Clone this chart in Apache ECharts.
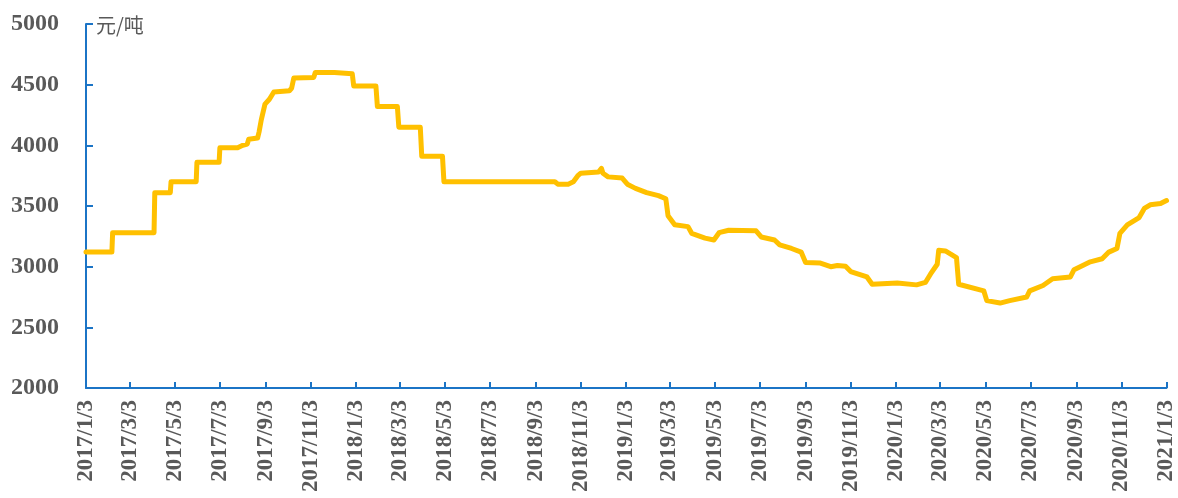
<!DOCTYPE html>
<html>
<head>
<meta charset="utf-8">
<script src="https://cdn.jsdelivr.net/npm/echarts@6/dist/echarts.min.js"></script>
<style>
html,body{margin:0;padding:0;background:#fff;}
#chart{width:1178px;height:498px;}
</style>
</head>
<body>
<div id="chart"></div>
<script>
// Axis range (daily categories between these dates)
const startDate = '2017/1/3';
const endDate = '2021/1/3';
const unitLabel = '元/吨';
const yTicks = [2000, 2500, 3000, 3500, 4000, 4500, 5000];

// Breakpoints of the price line
const pointDates = [
 '2017/1/3','2017/2/7','2017/2/8','2017/4/5','2017/4/6','2017/4/27','2017/4/28','2017/6/1','2017/6/2','2017/7/2',
 '2017/7/3','2017/7/27','2017/8/3','2017/8/9','2017/8/11','2017/8/23','2017/8/25','2017/8/28','2017/9/2','2017/9/8',
 '2017/9/14','2017/10/5','2017/10/8','2017/10/11','2017/11/7','2017/11/9','2017/12/5','2017/12/7','2017/12/29','2017/12/31',
 '2018/1/30','2018/2/1','2018/2/28','2018/3/2','2018/3/31','2018/4/2','2018/4/30','2018/5/2','2018/9/29','2018/10/3',
 '2018/10/17','2018/10/24','2018/10/30','2018/11/3','2018/11/27','2018/12/1','2018/12/3','2018/12/10','2018/12/29','2019/1/5',
 '2019/1/16','2019/1/31','2019/2/16','2019/2/26','2019/3/1','2019/3/10','2019/3/28','2019/4/2','2019/4/20','2019/5/2',
 '2019/5/9','2019/5/22','2019/6/28','2019/7/5','2019/7/23','2019/7/30','2019/8/15','2019/8/28','2019/9/3','2019/9/23',
 '2019/10/7','2019/10/16','2019/10/27','2019/11/3','2019/11/25','2019/12/2','2020/1/5','2020/1/31','2020/2/12','2020/2/19',
 '2020/2/28','2020/3/1','2020/3/10','2020/3/25','2020/3/28','2020/5/1','2020/5/5','2020/5/23','2020/6/5','2020/6/28',
 '2020/7/2','2020/7/20','2020/8/2','2020/8/26','2020/8/31','2020/9/22','2020/10/8','2020/10/17','2020/10/28','2020/11/1',
 '2020/11/11','2020/11/27','2020/12/4','2020/12/12','2020/12/26','2021/1/3'
];
const pointValues = [
 3120,3120,3280,3280,3610,3610,3700,3700,3860,3860,
 3980,3980,4000,4010,4050,4060,4110,4210,4340,4380,
 4440,4450,4470,4555,4560,4600,4600,4590,4590,4490,
 4490,4320,4320,4150,4150,3910,3910,3700,3700,3680,
 3680,3700,3750,3770,3780,3810,3770,3740,3730,3680,
 3645,3610,3585,3560,3420,3345,3330,3275,3235,3220,
 3280,3300,3295,3245,3220,3180,3150,3120,3035,3030,
 3000,3010,3003,2960,2915,2855,2865,2850,2870,2940,
 3020,3135,3130,3075,2855,2800,2720,2700,2720,2750,
 2800,2845,2900,2915,2975,3040,3065,3120,3150,3275,
 3345,3405,3480,3510,3520,3545
];

// daily category list
function fmt(d){return d.getUTCFullYear()+'/'+(d.getUTCMonth()+1)+'/'+d.getUTCDate();}
function parse(s){const p=s.split('/').map(Number);return new Date(Date.UTC(p[0],p[1]-1,p[2]));}
const categories=[];
for(let d=parse(startDate); d<=parse(endDate); d=new Date(d.getTime()+86400000)) categories.push(fmt(d));

function showTick(idx, val){
  const p = val.split('/');
  return p[2]==='3' && (+p[1])%2===1;
}

const seriesData = pointDates.map((d,i)=>[d, pointValues[i]]);

const chart = echarts.init(document.getElementById('chart'));
chart.setOption({
  animation:false,
  backgroundColor:'#fff',
  grid:{left:86, right:10, top:24, bottom:110, containLabel:false},
  xAxis:{
    type:'category',
    data:categories,
    boundaryGap:false,
    axisLine:{lineStyle:{color:'#1B74C6', width:2}},
    axisTick:{inside:true, length:6, interval:showTick, lineStyle:{color:'#1B74C6', width:2}},
    axisLabel:{interval:showTick, rotate:90, margin:12, color:'#595959',
      fontFamily:'"Liberation Serif","Times New Roman",serif', fontWeight:'bold', fontSize:23},
    splitLine:{show:false}
  },
  yAxis:{
    type:'value',
    min:yTicks[0], max:yTicks[yTicks.length-1], interval:500,
    axisLine:{show:true, lineStyle:{color:'#1B74C6', width:2}},
    axisTick:{show:true, inside:true, length:7, lineStyle:{color:'#1B74C6', width:2}},
    axisLabel:{margin:27, color:'#595959', formatter:function(v){return String(v);},
      fontFamily:'"Liberation Serif","Times New Roman",serif', fontWeight:'bold', fontSize:24},
    splitLine:{show:false}
  },
  graphic:[{
    type:'text', left:96, top:15,
    style:{text:unitLabel, fill:'#595959', font:'20px "Noto Sans CJK SC", sans-serif'}
  }],
  series:[{
    type:'line',
    data:seriesData,
    showSymbol:false,
    symbol:'none',
    lineStyle:{color:'#FFC000', width:5, cap:'round', join:'round'},
    itemStyle:{color:'#FFC000'}
  }]
});
</script>
</body>
</html>
